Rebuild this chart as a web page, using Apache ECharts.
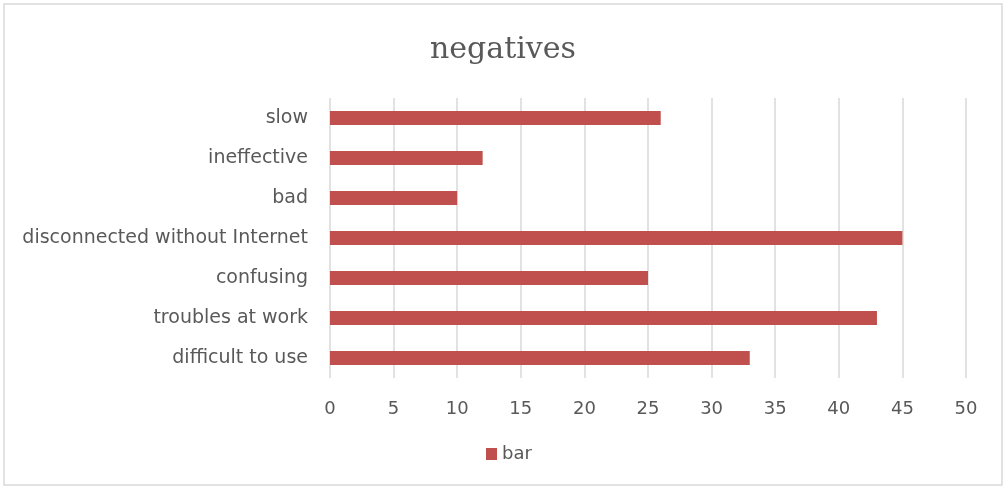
<!DOCTYPE html>
<html><head><meta charset="utf-8">
<script src="https://cdn.jsdelivr.net/npm/echarts@6/dist/echarts.min.js"></script>
<style>html,body{margin:0;padding:0;background:#fff}#c{width:1006px;height:489px}</style>
</head><body><div id="c"></div>
<script>
const categories = ["difficult to use","troubles at work","confusing","disconnected without Internet","bad","ineffective","slow"];
const values = [33,43,25,45,10,12,26];
const seriesName = "bar";
const chart = echarts.init(document.getElementById('c'));
chart.setOption({
  animation:false,
  graphic:[{type:'rect',shape:{x:4,y:4,width:998,height:481},style:{fill:'none',stroke:'#d9d9d9',lineWidth:1.5},silent:true}],
  title:{text:'negatives',left:'center',top:30,textStyle:{fontFamily:'DejaVu Serif',fontWeight:'normal',fontSize:30,color:'#595959'}},
  legend:{bottom:21,left:481,itemWidth:11,itemHeight:12,icon:'rect',itemGap:8,textStyle:{fontFamily:'DejaVu Sans',fontSize:18,color:'#595959'},data:[seriesName]},
  grid:{left:330,right:40,top:98,bottom:111,containLabel:false},
  xAxis:{type:'value',min:0,max:50,interval:5,axisLine:{show:false},axisTick:{show:false},
    axisLabel:{fontFamily:'DejaVu Sans',fontSize:18,color:'#595959',margin:22},
    splitLine:{lineStyle:{color:'#d9d9d9',width:1.5}}},
  yAxis:{type:'category',data:categories,axisLine:{show:false},axisTick:{show:false},
    axisLabel:{fontFamily:'DejaVu Sans',fontSize:19,color:'#595959',margin:22,padding:[3,0,0,0]}},
  series:[{name:seriesName,type:'bar',data:values,barWidth:14,itemStyle:{color:'#c0504d'}}]
});
</script></body></html>
